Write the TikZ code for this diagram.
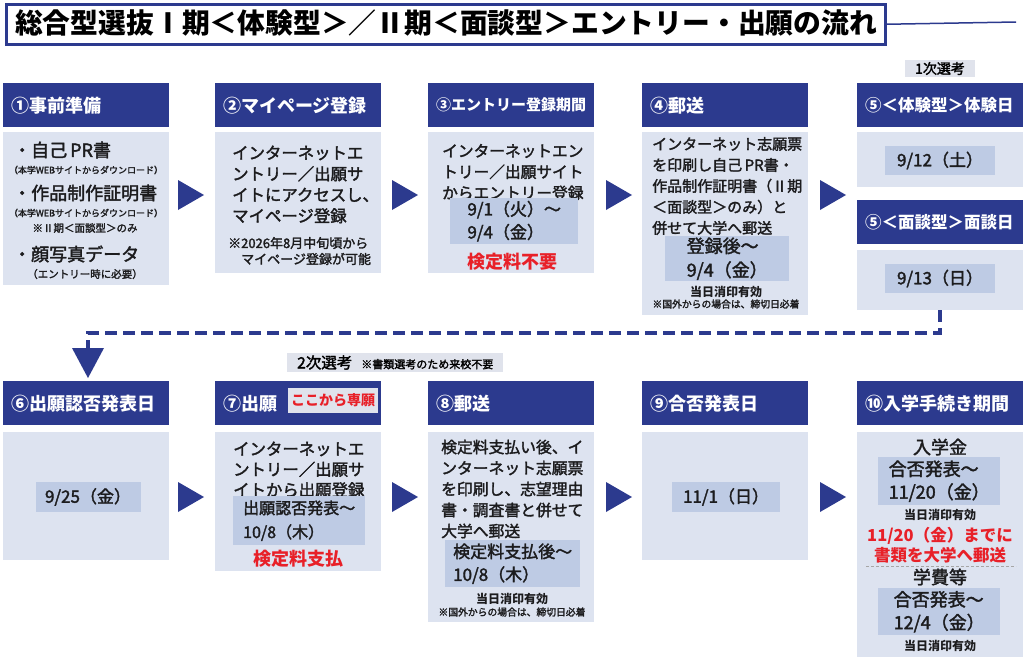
\documentclass[tikz,border=0pt]{standalone}
\usepackage{fontspec}
\setmainfont{Noto Sans CJK JP}[UprightFeatures={FakeBold=2}]
\usetikzlibrary{positioning}

\definecolor{hdrblue}{RGB}{44,58,142}
\definecolor{bodyblue}{RGB}{221,227,240}
\definecolor{datefill}{RGB}{190,203,228}
\definecolor{tagfill}{RGB}{224,227,236}
\definecolor{alertred}{RGB}{232,32,40}
\definecolor{inkgray}{RGB}{28,28,30}

\begin{document}
\begin{tikzpicture}[x=1pt,y=1pt,yscale=-1,
  hdr/.style={fill=hdrblue, text=white, anchor=north west, minimum height=44pt,
    text width=150pt, inner xsep=8pt, align=left, font=\bfseries\fontsize{18}{22}\selectfont},
  body/.style={fill=bodyblue, anchor=north west, minimum width=166pt, inner sep=0pt},
  datebox/.style={fill=datefill, inner sep=0pt, text=inkgray, align=left},
  txt/.style={text=inkgray, inner sep=0pt, align=left, anchor=west},
  note/.style={text=inkgray, inner sep=0pt, align=center},
  alert/.style={text=alertred, inner sep=0pt, align=center, font=\bfseries\fontsize{18}{22}\selectfont},
  tag/.style={fill=tagfill, inner sep=0pt},
  flowline/.style={hdrblue, line width=4pt, dash pattern=on 12pt off 6pt}]
  \useasboundingbox (0,0) rectangle (1024,656);

  % Title
  \node (title) [draw=hdrblue, line width=2.5pt, fill=white, anchor=north west,
    minimum width=879pt, minimum height=40pt, inner sep=0pt] at (5,3) {};
  \node (titletxt) [anchor=west, inner sep=0pt, text=black,
    font=\bfseries\fontsize{27.8}{30}\selectfont] at (15,23)
    {総合型選抜Ⅰ期＜体験型＞／Ⅱ期＜面談型＞エントリー・出願の流れ};
  \coordinate (titleend) at (1016,22);
  \draw [hdrblue, line width=1.5pt] (title.east) -- (titleend);

  % Row 1: headers and bodies
  \node (h1) [hdr] at (3,83) {①事前準備};
  \node (h2) [hdr] at (215,83) {②マイページ登録};
  \node (h3) [hdr, font=\bfseries\fontsize{15}{18}\selectfont] at (428,83) {③エントリー登録期間};
  \node (h4) [hdr] at (642,83) {④郵送};
  \node (h5a) [hdr, font=\bfseries\fontsize{16.5}{20}\selectfont] at (857,83) {⑤＜体験型＞体験日};
  \node (h5b) [hdr, font=\bfseries\fontsize{16.5}{20}\selectfont] at (857,200) {⑤＜面談型＞面談日};

  \node (b1) [body, minimum height=153pt] at (3,132) {};
  \node (b2) [body, minimum height=141pt] at (215,132) {};
  \node (b3) [body, minimum height=141pt] at (428,132) {};
  \node (b4) [body, minimum height=183pt] at (642,132) {};
  \node (b5a) [body, minimum height=55pt] at (857,132) {};
  \node (b5b) [body, minimum height=60pt] at (857,250) {};

  \node (tag1) [tag, minimum width=70pt, minimum height=17pt, font=\fontsize{14}{16}\selectfont] at (940,68.5) {1次選考};

  % Step 1 text
  \node (t1a) [txt, font=\fontsize{18}{22}\selectfont] at (13,150) {・自己\,PR書};
  \node (n1a) [note, font=\fontsize{9}{11}\selectfont] at (86,170) {（本学WEBサイトからダウンロード）};
  \node (t1b) [txt, font=\fontsize{18}{22}\selectfont] at (13,193) {・作品制作証明書};
  \node (n1b) [note, font=\fontsize{9}{11}\selectfont] at (86,213) {（本学WEBサイトからダウンロード）};
  \node (n1c) [note, font=\fontsize{10.5}{12}\selectfont] at (85,228) {※Ⅱ期＜面談型＞のみ};
  \node (t1c) [txt, font=\fontsize{18}{22}\selectfont] at (13,254) {・顔写真データ};
  \node (n1d) [note, font=\fontsize{10.5}{12}\selectfont] at (85,274) {（エントリー時に必要）};

  % Step 2 text
  \node (t2) [txt, font=\fontsize{16.4}{21}\selectfont] at (232,184.5)
    {インターネットエ\\ントリー／出願サ\\イトにアクセスし、\\マイページ登録};
  \node (n2) [txt, font=\fontsize{13}{16}\selectfont] at (228,251)
    {※2026年8月中旬頃から\\\phantom{※}マイページ登録が可能};

  % Step 3 text
  \node (t3) [txt, font=\fontsize{15.7}{21}\selectfont] at (442,172)
    {インターネットエン\\トリー／出願サイト\\からエントリー登録};
  \node (d3) [datebox, anchor=north west, minimum width=128pt, minimum height=46pt,
    font=\fontsize{17}{23}\selectfont] at (450,198) {9/1（火）～\\9/4（金）};
  \node (r3) [alert] at (512,262) {検定料不要};

  % Step 4 text
  \node (t4) [txt, font=\fontsize{15}{21}\selectfont] at (652,186)
    {インターネット志願票\\を印刷し自己\,PR書・\\作品制作証明書（Ⅱ期\\＜面談型＞のみ）と\\併せて大学へ郵送};
  \node (d4) [datebox, anchor=north west, minimum width=124pt, minimum height=45pt,
    font=\fontsize{18}{24}\selectfont] at (665,236) {登録後～\\9/4（金）};
  \node (n4a) [note, font=\bfseries\fontsize{12}{14}\selectfont] at (726,292) {当日消印有効};
  \node (n4b) [note, font=\fontsize{9.8}{12}\selectfont] at (726,304) {※国外からの場合は、締切日必着};

  % Step 5 dates
  \node (d5a) [datebox, minimum width=110pt, minimum height=29pt, font=\fontsize{17}{20}\selectfont] at (940,160.5) {9/12（土）};
  \node (d5b) [datebox, minimum width=110pt, minimum height=29pt, font=\fontsize{17}{20}\selectfont] at (940,278.5) {9/13（日）};

  % Row 1 arrows
  \foreach \ax in {191,405,619,833}
    \fill [hdrblue] (\ax-13,180) -- (\ax+13,195) -- (\ax-13,210) -- cycle;

  % Dashed return line
  \coordinate (downtip) at (88,348);
  \draw [flowline] (b5b.south) -- ++(0,23) -| (downtip);
  \fill [hdrblue] (72,348) -- (104,348) -- (88,378) -- cycle;

  \node (tag2) [tag, anchor=west, minimum height=19pt, inner xsep=10pt] at (287,362.5)
    {{\fontsize{15.5}{18}\selectfont 2次選考}\hspace{9pt}{\fontsize{11}{13}\selectfont ※書類選考のため来校不要}};

  % Row 2: headers and bodies
  \node (h6) [hdr] at (3,381) {⑥出願認否発表日};
  \node (h7) [hdr] at (215,381) {⑦出願};
  \node (h8) [hdr] at (428,381) {⑧郵送};
  \node (h9) [hdr] at (642,381) {⑨合否発表日};
  \node (h10) [hdr] at (857,381) {⑩入学手続き期間};

  \node (tag7) [fill=tagfill, text=alertred, inner sep=0pt, minimum width=90pt, minimum height=25pt,
    font=\bfseries\fontsize{14}{16}\selectfont] at (333,400.5) {ここから専願};

  \node (b6) [body, minimum height=128pt] at (3,432) {};
  \node (b7) [body, minimum height=139pt] at (215,432) {};
  \node (b8) [body, minimum height=190pt] at (428,432) {};
  \node (b9) [body, minimum height=128pt] at (642,432) {};
  \node (b10) [body, minimum height=226pt] at (857,432) {};

  % Step 6
  \node (d6) [datebox, minimum width=105pt, minimum height=30pt, font=\fontsize{17}{20}\selectfont] at (88,497) {9/25（金）};

  % Step 7
  \node (t7) [txt, font=\fontsize{16.4}{20.5}\selectfont] at (233,469.5)
    {インターネットエ\\ントリー／出願サ\\イトから出願登録};
  \node (d7) [datebox, anchor=north west, minimum width=132pt, minimum height=49pt,
    font=\fontsize{16}{24}\selectfont] at (233,496) {出願認否発表～\\10/8（木）};
  \node (r7) [alert] at (298,559) {検定料支払};

  % Step 8
  \node (t8) [txt, font=\fontsize{15.8}{21}\selectfont] at (441,489)
    {検定料支払い後、イ\\ンターネット志願票\\を印刷し、志望理由\\書・調査書と併せて\\大学へ郵送};
  \node (d8) [datebox, anchor=north west, minimum width=135pt, minimum height=47pt,
    font=\fontsize{17}{23}\selectfont] at (445,540) {検定料支払後～\\10/8（木）};
  \node (n8a) [note, font=\bfseries\fontsize{12}{14}\selectfont] at (512,599) {当日消印有効};
  \node (n8b) [note, font=\fontsize{9.8}{12}\selectfont] at (512,612) {※国外からの場合は、締切日必着};

  % Step 9
  \node (d9) [datebox, minimum width=108pt, minimum height=30pt, font=\fontsize{17}{20}\selectfont] at (726,497) {11/1（日）};

  % Step 10
  \node (t10a) [note, font=\fontsize{18}{22}\selectfont] at (940,447) {入学金};
  \node (d10a) [datebox, anchor=north west, minimum width=122pt, minimum height=48pt,
    font=\fontsize{18}{23}\selectfont] at (878,457) {合否発表～\\11/20（金）};
  \node (n10a) [note, font=\bfseries\fontsize{12}{14}\selectfont] at (940,515) {当日消印有効};
  \node (r10) [alert, font=\bfseries\fontsize{16.5}{20}\selectfont] at (940,545) {11/20（金）までに\\書類を大学へ郵送};
  \draw [gray!70, line width=0.8pt, dash pattern=on 3pt off 2pt] (866,566) -- (1016,566);
  \node (t10b) [note, font=\fontsize{18}{22}\selectfont] at (940,577) {学費等};
  \node (d10b) [datebox, anchor=north west, minimum width=122pt, minimum height=47pt,
    font=\fontsize{18}{23}\selectfont] at (878,588) {合否発表～\\12/4（金）};
  \node (n10b) [note, font=\bfseries\fontsize{12}{14}\selectfont] at (940,646) {当日消印有効};

  % Row 2 arrows
  \foreach \ax in {191,405,619,833}
    \fill [hdrblue] (\ax-13,482) -- (\ax+13,497) -- (\ax-13,512) -- cycle;

\end{tikzpicture}
\end{document}
